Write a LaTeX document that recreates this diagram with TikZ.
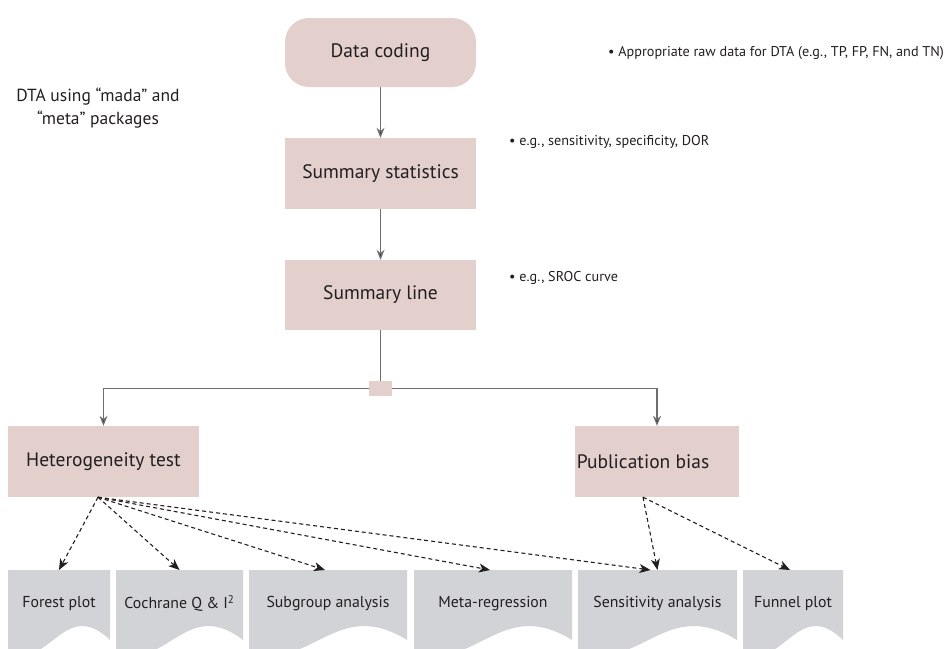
\documentclass[tikz,border=0pt]{standalone}
\usepackage{fontspec}
\setmainfont{PT Sans}
\usetikzlibrary{arrows.meta}
\definecolor{boxpink}{RGB}{227,208,204}
\definecolor{docgray}{RGB}{209,211,214}
\definecolor{txt}{RGB}{35,31,32}
\definecolor{linegray}{RGB}{110,110,110}
\begin{document}
\begin{tikzpicture}[x=1pt,y=-1pt,
  every node/.style={text=txt, inner sep=0pt},
  pinkbox/.style={fill=boxpink, minimum width=191pt, minimum height=71pt, font=\fontsize{19.5}{23}\selectfont},
  doclabel/.style={anchor=north, minimum height=66pt, font=\fontsize{15.8}{19}\selectfont},
  bullet/.style={anchor=west, font=\fontsize{14.2}{17}\selectfont},
  conn/.style={draw=linegray, line width=1.2pt},
  arr/.style={conn, -{Stealth[length=10pt,width=8pt,fill=txt]}},
  darr/.style={draw=txt, line width=1.1pt, dash pattern=on 4pt off 3pt, -{Stealth[length=11pt,width=9pt,inset=3pt]}}
]
\useasboundingbox (0,0) rectangle (945,648);
\begin{scope}
\clip (0,0) rectangle (945,648);
% document shapes
\fill[docgray] (8,570) -- (110,570) -- (110,640) .. controls (64.1,596) and (48.8,672) .. (8,652) -- cycle;
\fill[docgray] (116,570) -- (243,570) -- (243,640) .. controls (185.85,596) and (166.8,672) .. (116,652) -- cycle;
\fill[docgray] (249,570) -- (407,570) -- (407,640) .. controls (335.9,596) and (312.2,672) .. (249,652) -- cycle;
\fill[docgray] (414,570) -- (572,570) -- (572,640) .. controls (500.9,596) and (477.2,672) .. (414,652) -- cycle;
\fill[docgray] (578,570) -- (737,570) -- (737,640) .. controls (665.45,596) and (641.6,672) .. (578,652) -- cycle;
\fill[docgray] (743,570) -- (843,570) -- (843,640) .. controls (798,596) and (783,672) .. (743,652) -- cycle;
\end{scope}

\node[doclabel, minimum width=102pt] (forest) at (59,570) {Forest plot};
\node[doclabel, minimum width=127pt] (cochrane) at (179.5,570) {Cochrane Q \& I\textsuperscript{2}};
\node[doclabel, minimum width=158pt] (subgroup) at (328,570) {Subgroup analysis};
\node[doclabel, minimum width=158pt] (metareg) at (493,570) {Meta-regression};
\node[doclabel, minimum width=159pt] (sens) at (657.5,570) {Sensitivity analysis};
\node[doclabel, minimum width=100pt] (funnel) at (793,570) {Funnel plot};

% main boxes
\node[pinkbox, minimum height=69pt, rounded corners=24pt] (datacoding) at (380.5,52.5) {Data coding};
\node[pinkbox] (sumstat) at (380.5,173.5) {Summary statistics};
\node[pinkbox, minimum height=70pt] (sumline) at (380.5,295) {Summary line};
\node[fill=boxpink, minimum width=23pt, minimum height=15pt] (junction) at (380.5,388.5) {};
\node[pinkbox] (hetero) at (103.5,461.5) {Heterogeneity test};
\node[pinkbox, minimum width=164pt] (pubbias) at (657,461.5) {\hspace*{-28pt}Publication bias};

% side texts
\node[align=center, font=\fontsize{17.5}{22.5}\selectfont] (note) at (98,108) {DTA using “mada” and\\“meta” packages};
\node[bullet] (b1) at (608,53) {• Appropriate raw data for DTA (e.g., TP, FP, FN, and TN)};
\node[bullet] (b2) at (509,142) {• e.g., sensitivity, specificity, DOR};
\node[bullet] (b3) at (509,278) {• e.g., SROC curve};

% solid connectors
\draw[arr] (datacoding) -- (sumstat);
\draw[arr] (sumstat) -- (sumline);
\draw[conn] (sumline) -- (junction);
\draw[arr] (junction.west) -| (hetero.north);
\draw[arr] (junction.east) -| (pubbias.north);

% dashed connectors
\coordinate (hs) at ([xshift=-5.5pt]hetero.south);
\coordinate (ps) at ([xshift=-14pt]pubbias.south);
\draw[darr] (hs) -- (forest.north);
\draw[darr] (hs) -- (cochrane.north);
\draw[darr] (hs) -- ([xshift=-3pt]subgroup.north);
\draw[darr] (hs) -- ([xshift=-3pt]metareg.north);
\draw[darr] (hs) -- ([xshift=-7pt]sens.north);
\draw[darr] (ps) -- (sens.north);
\draw[darr] (ps) -- ([xshift=-3pt]funnel.north);
\end{tikzpicture}
\end{document}
